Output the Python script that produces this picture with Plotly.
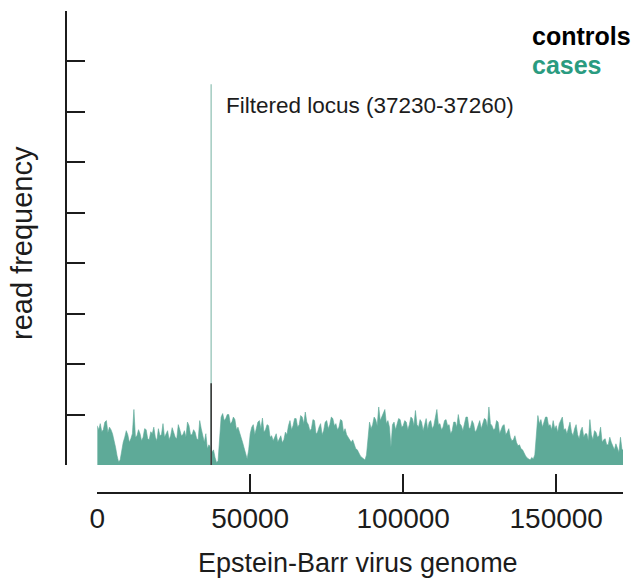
import plotly.graph_objects as go

# ---- data ----
genome_length = 171823
bin_size = 500
# read frequency of cases, one value per 0.5 kb bin
cases = [
    0.78, 0.70, 0.82, 0.66, 0.70, 0.85, 0.88, 0.64, 0.75, 0.70,
    0.62, 0.50, 0.35, 0.18, 0.06, 0.10, 0.32, 0.45, 0.55, 0.68,
    0.60, 0.45, 0.52, 0.62, 1.10, 0.55, 0.58, 0.70, 0.62, 0.48,
    0.55, 0.72, 0.70, 0.52, 0.50, 0.66, 0.62, 0.75, 0.55, 0.48,
    0.72, 0.58, 0.60, 0.82, 0.55, 0.62, 0.68, 0.50, 0.58, 0.74,
    0.62, 0.55, 0.52, 0.80, 0.70, 0.58, 0.60, 0.68, 0.55, 0.85,
    0.78, 0.60, 0.60, 0.70, 0.65, 0.52, 0.50, 0.88, 0.72, 0.55,
    0.45, 0.62, 0.32, 0.40, 0.35, 0.25, 0.30, 0.15, 0.05, 0.08,
    0.55, 0.95, 1.02, 0.88, 0.92, 1.00, 1.00, 0.82, 0.85, 0.95,
    0.90, 0.70, 0.75, 0.62, 0.55, 0.45, 0.35, 0.25, 0.12, 0.30,
    0.62, 0.75, 0.80, 0.60, 0.70, 0.85, 0.88, 0.72, 0.93, 0.65,
    0.70, 0.80, 0.78, 0.55, 0.58, 0.48, 0.55, 0.62, 0.45, 0.52,
    0.58, 0.44, 0.50, 0.65, 0.60, 0.78, 0.88, 0.70, 0.78, 0.92,
    0.92, 0.75, 0.80, 0.98, 0.95, 0.82, 1.05, 0.85, 0.80, 0.68,
    0.72, 0.90, 0.88, 0.62, 0.65, 0.75, 0.82, 0.60, 0.68, 0.85,
    0.88, 0.72, 0.80, 0.95, 0.92, 0.78, 0.82, 0.70, 0.75, 0.90,
    0.88, 0.65, 0.72, 0.60, 0.55, 0.48, 0.45, 0.50, 0.38, 0.32,
    0.30, 0.22, 0.18, 0.15, 0.12, 0.10, 0.20, 0.60, 0.85, 0.72,
    0.80, 0.95, 0.90, 0.78, 1.15, 0.88, 0.95, 1.05, 1.10, 0.82,
    0.88, 0.75, 0.35, 0.80, 0.85, 0.70, 0.80, 0.92, 0.90, 0.75,
    0.78, 0.88, 0.85, 0.70, 0.80, 0.95, 0.92, 0.78, 1.08, 0.80,
    0.75, 0.90, 0.85, 0.68, 0.80, 0.92, 0.70, 0.85, 0.88, 0.72,
    0.78, 0.95, 1.10, 0.80, 0.82, 0.70, 0.75, 0.88, 0.90, 0.78,
    0.80, 0.62, 0.68, 0.85, 0.85, 0.75, 1.00, 0.82, 0.78, 0.68,
    0.85, 0.95, 0.95, 0.72, 0.75, 0.88, 0.82, 0.65, 0.70, 0.80,
    0.88, 0.72, 0.80, 0.92, 0.90, 0.75, 1.15, 0.82, 0.78, 0.70,
    0.72, 0.88, 0.85, 0.62, 0.70, 0.78, 0.80, 0.60, 0.65, 0.72,
    0.55, 0.48, 0.50, 0.58, 0.45, 0.38, 0.40, 0.32, 0.30, 0.22,
    0.18, 0.14, 0.12, 0.10, 0.15, 0.12, 0.20, 0.60, 0.98, 0.82,
    0.90, 0.75, 0.85, 0.95, 0.95, 0.78, 0.80, 0.70, 0.88, 0.72,
    0.78, 0.65, 0.82, 0.90, 0.95, 0.70, 0.72, 0.62, 0.75, 0.85,
    0.65, 0.58, 0.72, 0.80, 0.60, 0.52, 0.68, 0.75, 0.55, 0.62,
    0.62, 0.48, 0.90, 0.60, 0.50, 0.68, 0.65, 0.55, 0.58, 0.75,
    0.45, 0.50, 0.52, 0.40, 0.40, 0.55, 0.45, 0.35, 0.30, 0.42,
    0.35, 0.25, 0.55, 0.30,
]
positions = [i * bin_size for i in range(len(cases))]

# filtered locus spike
locus_pos = 37245
locus_cases = 7.55
locus_controls = 1.62

x_tickvals = [0, 50000, 100000, 150000, genome_length]
x_ticktext = ["0", "50000", "100000", "150000", ""]
y_tickvals = [0, 1, 2, 3, 4, 5, 6, 7, 8, 9]

GREEN = "#5EAA98"
GREEN_TXT = "#2A9B80"
INK = "#1c1c1c"
FONT = "Arial, Liberation Sans, sans-serif"

# ---- geometry ----
W, H = 635, 585
L, R, T, B = 66, 12, 11, 92
plot_w = W - L - R
plot_h = H - T - B
y_bottom_px = 465
ydom0 = (H - B - y_bottom_px) / plot_h
xdom0 = (97.2 - L) / plot_w

fig = go.Figure()
fig.add_trace(go.Scatter(
    x=positions + [genome_length], y=cases + [cases[-1]],
    mode="lines", line=dict(color=GREEN, width=0.6),
    fill="tozeroy", fillcolor=GREEN, hoverinfo="skip", showlegend=False,
))
fig.add_trace(go.Scatter(
    x=[locus_pos, locus_pos], y=[0, locus_cases], mode="lines",
    line=dict(color="#a9cfc5", width=1.6), showlegend=False,
))
fig.add_trace(go.Scatter(
    x=[locus_pos, locus_pos], y=[0, locus_controls], mode="lines",
    line=dict(color="#3a3a3a", width=1.6), showlegend=False,
))

fig.update_layout(
    width=W, height=H,
    margin=dict(l=L, r=R, t=T, b=B),
    paper_bgcolor="white", plot_bgcolor="white",
    font=dict(family=FONT, color=INK),
    xaxis=dict(
        domain=[xdom0, 1], range=[0, genome_length],
        anchor="free", position=0,
        showgrid=False, zeroline=False,
        showline=True, linecolor=INK, linewidth=2,
        ticks="inside", ticklen=18, tickwidth=2, tickcolor=INK,
        tickvals=x_tickvals, ticktext=x_ticktext,
        tickfont=dict(size=28, color=INK),
    ),
    yaxis=dict(
        domain=[ydom0, 1], range=[0, 9],
        anchor="free", position=0,
        showgrid=False, zeroline=False,
        showline=True, linecolor=INK, linewidth=2,
        ticks="inside", ticklen=18, tickwidth=2, tickcolor=INK,
        tickvals=y_tickvals, showticklabels=False,
    ),
    annotations=[
        dict(text="Filtered locus (37230-37260)", xref="paper", yref="paper",
             x=(224 - L) / plot_w, y=(H - B - 106) / plot_h,
             xanchor="left", yanchor="middle", showarrow=False,
             font=dict(size=22.5, color=INK)),
        dict(text="<b>controls</b>", xref="paper", yref="paper",
             x=(530 - L) / plot_w, y=(H - B - 36) / plot_h,
             xanchor="left", yanchor="middle", showarrow=False,
             font=dict(size=25, color="#000000")),
        dict(text="<b>cases</b>", xref="paper", yref="paper",
             x=(530 - L) / plot_w, y=(H - B - 65) / plot_h,
             xanchor="left", yanchor="middle", showarrow=False,
             font=dict(size=25, color=GREEN_TXT)),
        dict(text="Epstein-Barr virus genome", xref="paper", yref="paper",
             x=(358 - L) / plot_w, y=(H - B - 563) / plot_h,
             xanchor="center", yanchor="middle", showarrow=False,
             font=dict(size=27, color=INK)),
        dict(text="read frequency", xref="paper", yref="paper",
             x=(22 - L) / plot_w, y=(H - B - 243) / plot_h,
             xanchor="center", yanchor="middle", showarrow=False,
             textangle=-90, font=dict(size=29, color=INK)),
    ],
)

fig.write_html("out.html")
